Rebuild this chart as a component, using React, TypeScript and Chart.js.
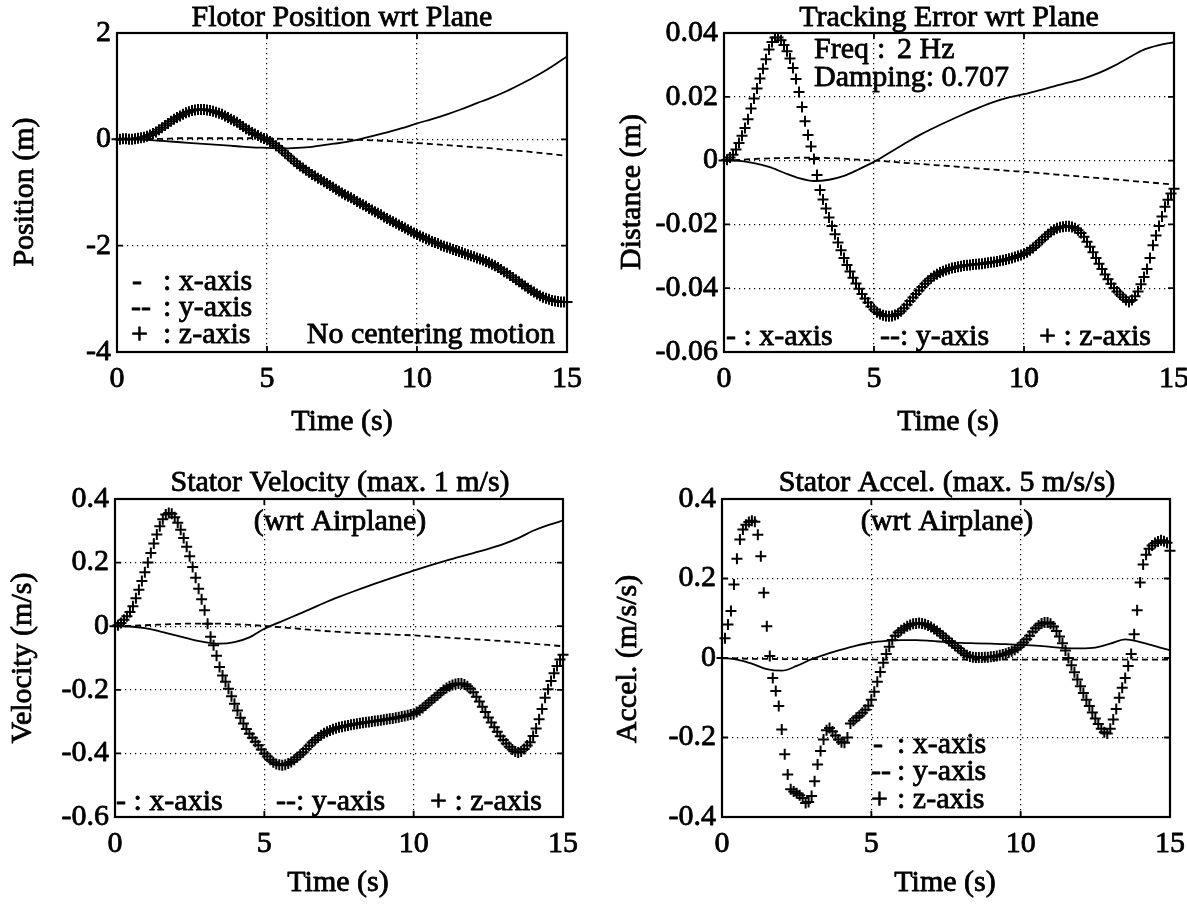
import React, { useEffect, useRef } from 'react';
import { Chart, registerables } from 'chart.js';
Chart.register(...registerables);

// ---------- DATA ----------
const T_STEP_MARK = 0.1;
const T_MARK: number[] = Array.from({ length: 151 }, (_, i) => Math.round(i * T_STEP_MARK * 10) / 10);
const T_LINE: number[] = [0, 0.5, 1, 1.5, 2, 2.5, 3, 3.5, 4, 4.5, 5, 5.5, 6, 6.5, 7, 7.5, 8, 8.5, 9, 9.5, 10, 10.5, 11, 11.5, 12, 12.5, 13, 13.5, 14, 14.5, 15];

const X_TICKS = [0, 5, 10, 15];
const X_TICK_LABELS = ['0', '5', '10', '15'];

// Panel 1: Flotor Position wrt Plane
const POS_Y_TICKS = [2, 0, -2, -4];
const POS_Y_LABELS = ['2', '0', '-2', '-4'];
const POS_X = [0, 0, -0.01, -0.03, -0.05, -0.07, -0.09, -0.11, -0.13, -0.15, -0.16, -0.17, -0.16, -0.14, -0.1, -0.06, -0.01, 0.06, 0.13, 0.21, 0.3, 0.38, 0.47, 0.57, 0.68, 0.79, 0.91, 1.05, 1.2, 1.37, 1.56];
const POS_Y = [0, 0, 0.01, 0.01, 0.02, 0.02, 0.02, 0.02, 0.02, 0.02, 0.02, 0.01, 0.01, 0, 0, 0, -0.01, -0.02, -0.03, -0.05, -0.07, -0.09, -0.11, -0.13, -0.15, -0.17, -0.2, -0.22, -0.25, -0.28, -0.31];
const POS_Z = [
  0, 0, 0.01, 0.01, 0, 0, 0.01, 0.02, 0.03, 0.04,
  0.06, 0.08, 0.11, 0.14, 0.18, 0.22, 0.26, 0.3, 0.34, 0.38,
  0.41, 0.44, 0.47, 0.5, 0.52, 0.54, 0.55, 0.56, 0.56, 0.56,
  0.55, 0.54, 0.53, 0.51, 0.49, 0.47, 0.44, 0.41, 0.38, 0.35,
  0.32, 0.28, 0.24, 0.2, 0.17, 0.13, 0.1, 0.07, 0.04, 0.015,
  -0.01, -0.04, -0.08, -0.12, -0.16, -0.21, -0.26, -0.31, -0.36, -0.41,
  -0.46, -0.5, -0.54, -0.58, -0.62, -0.66, -0.69, -0.73, -0.76, -0.8,
  -0.83, -0.87, -0.9, -0.94, -0.97, -1.01, -1.04, -1.07, -1.1, -1.13,
  -1.17, -1.2, -1.23, -1.26, -1.3, -1.33, -1.36, -1.39, -1.42, -1.46,
  -1.49, -1.52, -1.55, -1.58, -1.61, -1.64, -1.67, -1.7, -1.73, -1.76,
  -1.79, -1.82, -1.84, -1.87, -1.89, -1.92, -1.94, -1.96, -1.99, -2.01,
  -2.03, -2.05, -2.07, -2.09, -2.11, -2.13, -2.15, -2.17, -2.19, -2.21,
  -2.23, -2.25, -2.27, -2.3, -2.32, -2.35, -2.38, -2.41, -2.45, -2.49,
  -2.52, -2.56, -2.6, -2.64, -2.68, -2.72, -2.76, -2.8, -2.84, -2.87,
  -2.91, -2.94, -2.97, -2.99, -3.01, -3.03, -3.04, -3.05, -3.06, -3.06,
  -3.06,
];

// Panel 2: Tracking Error wrt Plane
const ERR_Y_TICKS = [0.04, 0.02, 0, -0.02, -0.04, -0.06];
const ERR_Y_LABELS = ['0.04', '0.02', '0', '-0.02', '-0.04', '-0.06'];
const ERR_X = [0, -0.0001, -0.0008, -0.002, -0.0038, -0.0055, -0.0064, -0.006, -0.0048, -0.0027, -0.0004, 0.0024, 0.0052, 0.0079, 0.0103, 0.0125, 0.0146, 0.0166, 0.0184, 0.0198, 0.0208, 0.022, 0.0233, 0.0245, 0.0258, 0.0275, 0.0297, 0.0323, 0.0348, 0.0362, 0.0371];
const ERR_Y = [0, 0.0002, 0.0005, 0.0007, 0.0008, 0.0009, 0.0009, 0.0008, 0.0006, 0.0003, 0, -0.0003, -0.0007, -0.001, -0.0014, -0.0017, -0.0021, -0.0025, -0.0028, -0.0032, -0.0035, -0.0039, -0.0043, -0.0047, -0.0051, -0.0055, -0.0059, -0.0063, -0.0067, -0.0071, -0.0075];
const ERR_Z = [
  0, 0.0003, 0.001, 0.0018, 0.0035, 0.0055, 0.0078, 0.0102, 0.013, 0.0163,
  0.0195, 0.0226, 0.0257, 0.0288, 0.0318, 0.0348, 0.0372, 0.0386, 0.0386, 0.0377,
  0.0362, 0.0343, 0.032, 0.029, 0.0256, 0.0215, 0.0168, 0.0123, 0.008, 0.0044,
  0.0005, -0.0045, -0.0092, -0.0122, -0.015, -0.0178, -0.0205, -0.0231, -0.0257, -0.0281,
  -0.0305, -0.0327, -0.0348, -0.0367, -0.0385, -0.0402, -0.0418, -0.0432, -0.0445, -0.0457,
  -0.0467, -0.0475, -0.0481, -0.0485, -0.0487, -0.0488, -0.0487, -0.0484, -0.048, -0.0472,
  -0.0463, -0.0452, -0.044, -0.0429, -0.0418, -0.0407, -0.0396, -0.0386, -0.0377, -0.0369,
  -0.0362, -0.0356, -0.0351, -0.0347, -0.0343, -0.034, -0.0337, -0.0335, -0.0333, -0.0331,
  -0.0329, -0.0328, -0.0327, -0.0326, -0.0325, -0.0324, -0.0323, -0.0322, -0.032, -0.0319,
  -0.0318, -0.0316, -0.0314, -0.0312, -0.031, -0.0308, -0.0305, -0.0302, -0.0299, -0.0296,
  -0.0292, -0.0287, -0.0281, -0.0274, -0.0266, -0.0257, -0.0248, -0.0239, -0.0231, -0.0223,
  -0.0217, -0.0212, -0.0209, -0.0207, -0.0206, -0.0206, -0.0208, -0.0212, -0.0218, -0.0227,
  -0.0239, -0.0254, -0.027, -0.0287, -0.0305, -0.0323, -0.034, -0.0357, -0.0372, -0.0386,
  -0.0399, -0.041, -0.042, -0.0428, -0.0437, -0.0443, -0.0437, -0.0425, -0.041, -0.0388,
  -0.0365, -0.034, -0.0305, -0.0265, -0.0235, -0.0205, -0.0175, -0.0145, -0.0123, -0.0103,
  -0.0088,
];

// Panel 3: Stator Velocity
const VEL_Y_TICKS = [0.4, 0.2, 0, -0.2, -0.4, -0.6];
const VEL_Y_LABELS = ['0.4', '0.2', '0', '-0.2', '-0.4', '-0.6'];
const VEL_X = [0, -0.001, -0.006, -0.016, -0.028, -0.04, -0.05, -0.055, -0.05, -0.035, -0.008, 0.012, 0.032, 0.052, 0.073, 0.092, 0.11, 0.127, 0.143, 0.159, 0.175, 0.19, 0.204, 0.217, 0.23, 0.243, 0.258, 0.277, 0.3, 0.318, 0.332];
const VEL_Y = [0, 0.001, 0.003, 0.005, 0.007, 0.008, 0.008, 0.008, 0.006, 0.004, 0.001, -0.003, -0.007, -0.011, -0.015, -0.018, -0.021, -0.023, -0.025, -0.027, -0.029, -0.032, -0.035, -0.038, -0.041, -0.044, -0.047, -0.051, -0.055, -0.059, -0.063];
const VEL_Z = [
  0, 0.003, 0.01, 0.02, 0.031, 0.045, 0.063, 0.088, 0.115, 0.142,
  0.17, 0.2, 0.23, 0.26, 0.288, 0.314, 0.336, 0.351, 0.356, 0.354,
  0.343, 0.325, 0.303, 0.277, 0.25, 0.22, 0.186, 0.152, 0.118, 0.085,
  0.05, 0.008, -0.033, -0.06, -0.093, -0.128, -0.155, -0.175, -0.197, -0.22,
  -0.244, -0.265, -0.288, -0.306, -0.323, -0.338, -0.351, -0.363, -0.374, -0.388,
  -0.4, -0.41, -0.42, -0.428, -0.433, -0.436, -0.437, -0.436, -0.432, -0.427,
  -0.42, -0.412, -0.404, -0.396, -0.386, -0.376, -0.366, -0.358, -0.35, -0.343,
  -0.337, -0.332, -0.328, -0.324, -0.321, -0.318, -0.316, -0.314, -0.312, -0.31,
  -0.308, -0.307, -0.305, -0.304, -0.302, -0.301, -0.3, -0.298, -0.297, -0.296,
  -0.294, -0.293, -0.291, -0.29, -0.288, -0.286, -0.284, -0.282, -0.28, -0.278,
  -0.275, -0.27, -0.264, -0.257, -0.249, -0.241, -0.233, -0.225, -0.217, -0.209,
  -0.201, -0.194, -0.189, -0.185, -0.182, -0.18, -0.18, -0.183, -0.189, -0.197,
  -0.208, -0.222, -0.237, -0.253, -0.27, -0.287, -0.303, -0.318, -0.332, -0.346,
  -0.358, -0.369, -0.379, -0.388, -0.394, -0.397, -0.394, -0.386, -0.375, -0.365,
  -0.345, -0.322, -0.293, -0.26, -0.225, -0.198, -0.172, -0.148, -0.125, -0.105,
  -0.09,
];

// Panel 4: Stator Accel
const ACC_Y_TICKS = [0.4, 0.2, 0, -0.2, -0.4];
const ACC_Y_LABELS = ['0.4', '0.2', '0', '-0.2', '-0.4'];
const ACC_X = [0, -0.004, -0.014, -0.028, -0.032, -0.02, -0.003, 0.01, 0.021, 0.031, 0.039, 0.043, 0.045, 0.045, 0.043, 0.04, 0.038, 0.037, 0.036, 0.035, 0.033, 0.031, 0.028, 0.025, 0.024, 0.026, 0.036, 0.047, 0.04, 0.03, 0.019];
const ACC_Y = [0, -0.001, -0.002, -0.002, -0.003, -0.003, -0.003, -0.003, -0.003, -0.003, -0.004, -0.004, -0.004, -0.004, -0.004, -0.004, -0.004, -0.004, -0.004, -0.004, -0.004, -0.004, -0.004, -0.004, -0.004, -0.004, -0.004, -0.004, -0.004, -0.004, -0.004];
const ACC_Z = [
  0, 0.05, 0.084, 0.118, 0.185, 0.25, 0.298, 0.323, 0.335, 0.342,
  0.345, 0.343, 0.31, 0.256, 0.164, 0.08, 0.005, -0.05, -0.083, -0.121,
  -0.18, -0.242, -0.293, -0.33, -0.336, -0.34, -0.345, -0.352, -0.365, -0.362,
  -0.347, -0.31, -0.268, -0.234, -0.205, -0.182, -0.176, -0.185, -0.195, -0.205,
  -0.212, -0.213, -0.2, -0.165, -0.158, -0.15, -0.145, -0.138, -0.13, -0.12,
  -0.105, -0.085, -0.06, -0.035, -0.012, 0.01, 0.028, 0.045, 0.056, 0.064,
  0.07, 0.075, 0.08, 0.083, 0.086, 0.087, 0.088, 0.087, 0.085, 0.082,
  0.078, 0.073, 0.068, 0.062, 0.056, 0.05, 0.043, 0.037, 0.031, 0.025,
  0.018, 0.012, 0.007, 0.004, 0.002, 0.001, 0.001, 0.001, 0.002, 0.002,
  0.003, 0.004, 0.005, 0.007, 0.009, 0.011, 0.014, 0.017, 0.021, 0.026,
  0.032, 0.039, 0.047, 0.056, 0.066, 0.075, 0.082, 0.087, 0.089, 0.089,
  0.086, 0.079, 0.068, 0.054, 0.037, 0.019, 0, -0.018, -0.036, -0.054,
  -0.071, -0.088, -0.105, -0.121, -0.137, -0.152, -0.166, -0.178, -0.187, -0.19,
  -0.178, -0.155, -0.128, -0.1, -0.075, -0.05, -0.02, 0.01, 0.06, 0.12,
  0.19, 0.235, 0.26, 0.275, 0.283, 0.289, 0.293, 0.296, 0.294, 0.29,
  0.27,
];

// ---------- LAYOUT ----------
const W = 1187;
const H = 905;
const FONT = '30px "Liberation Serif", "Times New Roman", serif';

type TextItem = { s: string; x: number; y: number; align?: CanvasTextAlign; rot?: boolean };
type PanelSpec = {
  area: { left: number; top: number; right: number; bottom: number };
  yTicks: number[];
  yLabels: string[];
  xLine: number[];
  yLine: number[];
  zMark: number[];
  texts: TextItem[];
};

const PANELS: PanelSpec[] = [
  {
    area: { left: 117, top: 33, right: 567, bottom: 352 },
    yTicks: POS_Y_TICKS, yLabels: POS_Y_LABELS, xLine: POS_X, yLine: POS_Y, zMark: POS_Z,
    texts: [
      { s: 'Flotor Position wrt Plane', x: 342, y: 18 },
      { s: 'Position (m)', x: 25, y: 192, rot: true },
      { s: 'Time (s)', x: 342, y: 422 },
      { s: '-', x: 132, y: 282, align: 'left' },
      { s: ': x-axis', x: 163, y: 282, align: 'left' },
      { s: '--', x: 131, y: 308, align: 'left' },
      { s: ': y-axis', x: 163, y: 308, align: 'left' },
      { s: '+', x: 131, y: 335, align: 'left' },
      { s: ': z-axis', x: 163, y: 335, align: 'left' },
      { s: 'No centering motion', x: 555, y: 335, align: 'right' },
    ],
  },
  {
    area: { left: 724, top: 33, right: 1174, bottom: 352 },
    yTicks: ERR_Y_TICKS, yLabels: ERR_Y_LABELS, xLine: ERR_X, yLine: ERR_Y, zMark: ERR_Z,
    texts: [
      { s: 'Tracking Error wrt Plane', x: 949, y: 18 },
      { s: 'Distance (m)', x: 632, y: 192, rot: true },
      { s: 'Time (s)', x: 948, y: 422 },
      { s: 'Freq', x: 814, y: 50, align: 'left' },
      { s: ':', x: 877, y: 50, align: 'left' },
      { s: '2 Hz', x: 897, y: 50, align: 'left' },
      { s: 'Damping: 0.707', x: 814, y: 78, align: 'left' },
      { s: '- : x-axis', x: 726, y: 337, align: 'left' },
      { s: '--: y-axis', x: 880, y: 337, align: 'left' },
      { s: '+ : z-axis', x: 1039, y: 337, align: 'left' },
    ],
  },
  {
    area: { left: 115, top: 499, right: 563, bottom: 817 },
    yTicks: VEL_Y_TICKS, yLabels: VEL_Y_LABELS, xLine: VEL_X, yLine: VEL_Y, zMark: VEL_Z,
    texts: [
      { s: 'Stator Velocity (max. 1 m/s)', x: 340, y: 483 },
      { s: '(wrt Airplane)', x: 340, y: 522 },
      { s: 'Velocity (m/s)', x: 23, y: 658, rot: true },
      { s: 'Time (s)', x: 338, y: 883 },
      { s: '- : x-axis', x: 116, y: 802, align: 'left' },
      { s: '--: y-axis', x: 276, y: 802, align: 'left' },
      { s: '+ : z-axis', x: 430, y: 802, align: 'left' },
    ],
  },
  {
    area: { left: 722, top: 499, right: 1170, bottom: 817 },
    yTicks: ACC_Y_TICKS, yLabels: ACC_Y_LABELS, xLine: ACC_X, yLine: ACC_Y, zMark: ACC_Z,
    texts: [
      { s: 'Stator Accel. (max. 5 m/s/s)', x: 947, y: 483 },
      { s: '(wrt Airplane)', x: 947, y: 522 },
      { s: 'Accel. (m/s/s)', x: 628, y: 659, rot: true },
      { s: 'Time (s)', x: 945, y: 883 },
      { s: '-', x: 873, y: 745, align: 'left' },
      { s: ': x-axis', x: 897, y: 745, align: 'left' },
      { s: '--', x: 871, y: 772, align: 'left' },
      { s: ': y-axis', x: 897, y: 772, align: 'left' },
      { s: '+', x: 871, y: 800, align: 'left' },
      { s: ': z-axis', x: 897, y: 800, align: 'left' },
    ],
  },
];

function drawText(ctx: CanvasRenderingContext2D, s: string, x: number, y: number) {
  ctx.fillText(s, x, y);
  ctx.strokeText(s, x, y);
}

function makeDecorPlugin(spec: PanelSpec) {
  return {
    id: 'decor',
    afterDraw(chart: any) {
      const ctx: CanvasRenderingContext2D = chart.ctx;
      const { left, top, right, bottom } = chart.chartArea;
      const xs = chart.scales.x;
      const ys = chart.scales.y;
      ctx.save();
      ctx.strokeStyle = '#000';
      ctx.lineWidth = 2.2;
      ctx.setLineDash([]);
      ctx.strokeRect(left, top, right - left, bottom - top);
      // inward tick marks
      ctx.lineWidth = 1.8;
      const TL = 6;
      ctx.beginPath();
      X_TICKS.forEach((v) => {
        const px = xs.getPixelForValue(v);
        ctx.moveTo(px, bottom); ctx.lineTo(px, bottom - TL);
        ctx.moveTo(px, top); ctx.lineTo(px, top + TL);
      });
      spec.yTicks.forEach((v) => {
        const py = ys.getPixelForValue(v);
        ctx.moveTo(left, py); ctx.lineTo(left + TL, py);
        ctx.moveTo(right, py); ctx.lineTo(right - TL, py);
      });
      ctx.stroke();
      // tick labels
      ctx.fillStyle = '#000';
      ctx.strokeStyle = '#000';
      ctx.lineWidth = 0.8;
      ctx.lineJoin = 'round';
      ctx.font = FONT;
      ctx.textBaseline = 'middle';
      ctx.textAlign = 'center';
      X_TICKS.forEach((v, i) => {
        drawText(ctx, X_TICK_LABELS[i], xs.getPixelForValue(v), bottom + 27);
      });
      ctx.textAlign = 'right';
      spec.yTicks.forEach((v, i) => {
        drawText(ctx, spec.yLabels[i], left - 6, ys.getPixelForValue(v));
      });
      // texts
      spec.texts.forEach((t) => {
        ctx.save();
        ctx.textAlign = t.align || 'center';
        ctx.textBaseline = 'middle';
        if (t.rot) {
          ctx.translate(t.x, t.y);
          ctx.rotate(-Math.PI / 2);
          drawText(ctx, t.s, 0, 0);
        } else {
          drawText(ctx, t.s, t.x, t.y);
        }
        ctx.restore();
      });
      ctx.restore();
    },
  };
}

function Panel({ spec }: { spec: PanelSpec }) {
  const ref = useRef<HTMLCanvasElement | null>(null);
  useEffect(() => {
    if (!ref.current) return;
    const a = spec.area;
    const toPts = (ts: number[], vs: number[]) => ts.map((t, i) => ({ x: t, y: vs[i] }));
    const yMin = Math.min(...spec.yTicks);
    const yMax = Math.max(...spec.yTicks);
    const chart = new Chart(ref.current, {
      type: 'line',
      data: {
        datasets: [
          {
            data: toPts(T_MARK, spec.zMark),
            showLine: false,
            pointStyle: 'cross',
            pointRadius: 5.5,
            pointBorderWidth: 2,
            pointBorderColor: '#000',
            pointBackgroundColor: '#000',
            borderColor: '#000',
            clip: false,
          } as any,
          {
            data: toPts(T_LINE, spec.xLine),
            borderColor: '#000',
            borderWidth: 1.8,
            pointRadius: 0,
            cubicInterpolationMode: 'monotone',
            fill: false,
          },
          {
            data: toPts(T_LINE, spec.yLine),
            borderColor: '#000',
            borderWidth: 1.8,
            borderDash: [6, 4],
            pointRadius: 0,
            cubicInterpolationMode: 'monotone',
            fill: false,
          },
        ],
      },
      options: {
        responsive: false,
        animation: false,
        devicePixelRatio: 1,
        events: [],
        layout: { padding: { left: a.left, top: a.top, right: W - a.right, bottom: H - a.bottom } },
        plugins: { legend: { display: false }, tooltip: { enabled: false }, title: { display: false } },
        scales: {
          x: {
            type: 'linear',
            min: 0,
            max: 15,
            afterBuildTicks: (s: any) => { s.ticks = X_TICKS.map((v) => ({ value: v })); },
            afterFit: (s: any) => { s.height = 0; },
            ticks: { display: false },
            grid: { color: '#000', lineWidth: 1.2, drawTicks: false },
            border: { display: false, dash: [1.2, 3.8] },
          },
          y: {
            type: 'linear',
            min: yMin,
            max: yMax,
            afterBuildTicks: (s: any) => { s.ticks = spec.yTicks.map((v) => ({ value: v })); },
            afterFit: (s: any) => { s.width = 0; },
            ticks: { display: false },
            grid: { color: '#000', lineWidth: 1.2, drawTicks: false },
            border: { display: false, dash: [1.2, 3.8] },
          },
        },
      } as any,
      plugins: [makeDecorPlugin(spec)],
    });
    return () => chart.destroy();
  }, [spec]);
  return <canvas ref={ref} width={W} height={H} style={{ position: 'absolute', left: 0, top: 0, width: W, height: H }} />;
}

export default function App() {
  return (
    <div style={{ position: 'absolute', left: 0, top: 0, width: W, height: H, background: '#fff', overflow: 'hidden' }}>
      {PANELS.map((p, i) => (
        <Panel key={i} spec={p} />
      ))}
    </div>
  );
}
